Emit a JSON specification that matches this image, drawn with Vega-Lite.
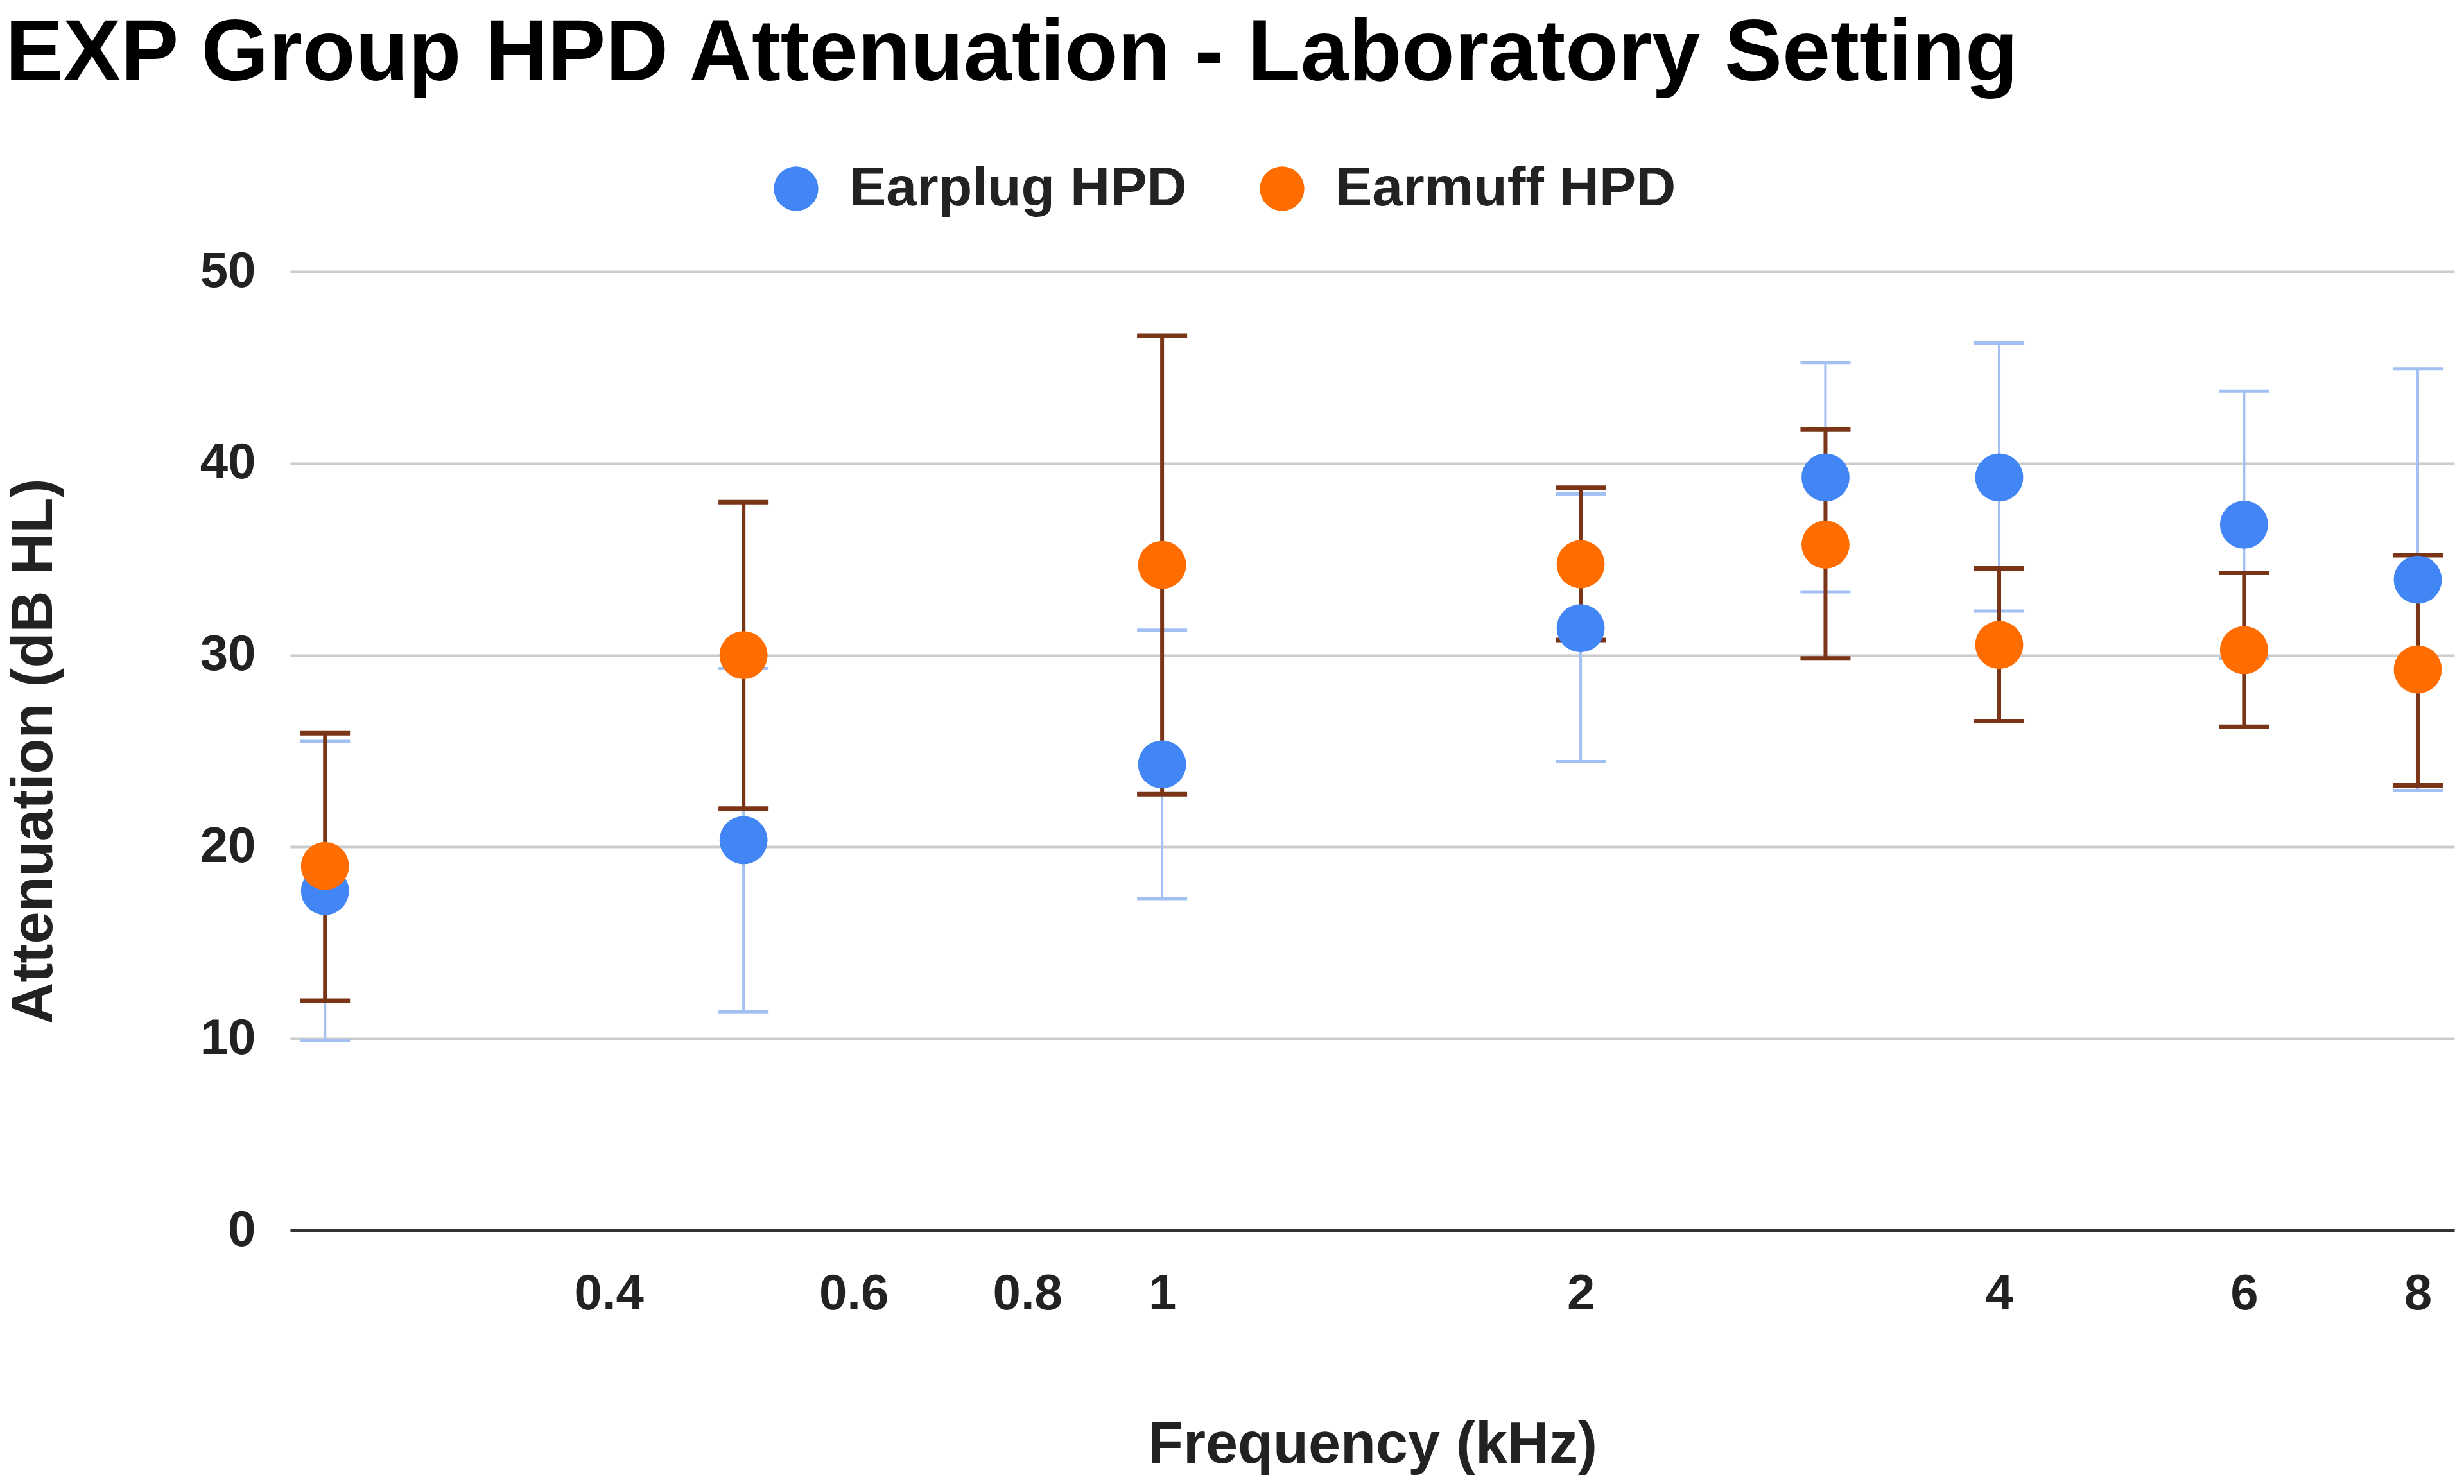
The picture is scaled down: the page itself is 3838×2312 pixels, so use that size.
{
  "$schema": "https://vega.github.io/schema/vega-lite/v6.json",
  "width": 3371,
  "height": 1494,
  "padding": {"left": 8, "top": 17, "right": 14, "bottom": 10},
  "background": "white",
  "title": {
    "text": "EXP Group HPD Attenuation - Laboratory Setting",
    "anchor": "start",
    "frame": "bounds",
    "font": "Liberation Sans",
    "fontSize": 135,
    "fontWeight": "bold",
    "color": "#000000",
    "offset": 98
  },
  "data": {
    "values": [
      {"freq": 0.25, "series": "Earplug HPD", "mean": 17.7, "lo": 9.9, "hi": 25.5},
      {"freq": 0.5, "series": "Earplug HPD", "mean": 20.35, "lo": 11.4, "hi": 29.3},
      {"freq": 1, "series": "Earplug HPD", "mean": 24.3, "lo": 17.3, "hi": 31.3},
      {"freq": 2, "series": "Earplug HPD", "mean": 31.4, "lo": 24.45, "hi": 38.4},
      {"freq": 3, "series": "Earplug HPD", "mean": 39.26, "lo": 33.3, "hi": 45.26},
      {"freq": 4, "series": "Earplug HPD", "mean": 39.26, "lo": 32.3, "hi": 46.27},
      {"freq": 6, "series": "Earplug HPD", "mean": 36.8, "lo": 29.83, "hi": 43.77},
      {"freq": 8, "series": "Earplug HPD", "mean": 33.93, "lo": 22.94, "hi": 44.92},
      {"freq": 0.25, "series": "Earmuff HPD", "mean": 19.0, "lo": 11.98, "hi": 25.93},
      {"freq": 0.5, "series": "Earmuff HPD", "mean": 30.0, "lo": 22.0, "hi": 37.98},
      {"freq": 1, "series": "Earmuff HPD", "mean": 34.7, "lo": 22.75, "hi": 46.65},
      {"freq": 2, "series": "Earmuff HPD", "mean": 34.74, "lo": 30.79, "hi": 38.73},
      {"freq": 3, "series": "Earmuff HPD", "mean": 35.76, "lo": 29.83, "hi": 41.76},
      {"freq": 4, "series": "Earmuff HPD", "mean": 30.53, "lo": 26.56, "hi": 34.52},
      {"freq": 6, "series": "Earmuff HPD", "mean": 30.26, "lo": 26.26, "hi": 34.29},
      {"freq": 8, "series": "Earmuff HPD", "mean": 29.25, "lo": 23.21, "hi": 35.21}
    ]
  },
  "encoding": {
    "x": {
      "field": "freq",
      "type": "quantitative",
      "scale": {"type": "log", "domain": [0.236, 8.5], "nice": false},
      "axis": {
        "title": "Frequency (kHz)",
        "values": [0.4, 0.6, 0.8, 1, 2, 4, 6, 8],
        "format": "~g",
        "grid": false,
        "ticks": false,
        "domain": true,
        "domainColor": "#333333",
        "domainWidth": 5,
        "labelPadding": 60,
        "titlePadding": 152
      }
    }
  },
  "layer": [
    {
      "transform": [{"filter": "datum.series === 'Earplug HPD'"}],
      "mark": {"type": "rule", "color": "#a3c0f2", "strokeWidth": 4},
      "encoding": {
        "y": {"field": "lo", "type": "quantitative"},
        "y2": {"field": "hi"}
      }
    },
    {
      "transform": [
        {"filter": "datum.series === 'Earplug HPD'"},
        {"fold": ["lo", "hi"], "as": ["end", "val"]}
      ],
      "mark": {"type": "tick", "orient": "horizontal", "color": "#a3c0f2", "size": 78, "thickness": 5, "opacity": 1},
      "encoding": {
        "y": {"field": "val", "type": "quantitative"}
      }
    },
    {
      "transform": [{"filter": "datum.series === 'Earmuff HPD'"}],
      "mark": {"type": "rule", "color": "#7a3516", "strokeWidth": 6},
      "encoding": {
        "y": {"field": "lo", "type": "quantitative"},
        "y2": {"field": "hi"}
      }
    },
    {
      "transform": [
        {"filter": "datum.series === 'Earmuff HPD'"},
        {"fold": ["lo", "hi"], "as": ["end", "val"]}
      ],
      "mark": {"type": "tick", "orient": "horizontal", "color": "#7a3516", "size": 78, "thickness": 7, "opacity": 1},
      "encoding": {
        "y": {"field": "val", "type": "quantitative"}
      }
    },
    {
      "mark": {"type": "point", "shape": "circle", "filled": true, "opacity": 1, "size": 5600},
      "encoding": {
        "y": {
          "field": "mean",
          "type": "quantitative",
          "scale": {"domain": [0, 50], "nice": false},
          "axis": {
            "title": "Attenuation (dB HL)",
            "values": [0, 10, 20, 30, 40, 50],
            "grid": true,
            "gridColor": "#cccccc",
            "gridWidth": 4,
            "ticks": false,
            "domain": false,
            "labelPadding": 54,
            "titlePadding": 212
          }
        },
        "color": {
          "field": "series",
          "type": "nominal",
          "scale": {"domain": ["Earplug HPD", "Earmuff HPD"], "range": ["#4285f4", "#ff6d01"]},
          "legend": {
            "title": null,
            "orient": "none",
            "direction": "horizontal",
            "legendX": 745,
            "legendY": -172,
            "symbolType": "circle",
            "symbolSize": 4800,
            "symbolStrokeWidth": 0,
            "labelFontSize": 86,
            "labelFontWeight": "bold",
            "labelFont": "Liberation Sans",
            "labelColor": "#222222",
            "labelLimit": 0,
            "labelOffset": 40,
            "columnPadding": 105
          }
        }
      }
    }
  ],
  "resolve": {"scale": {"y": "shared"}},
  "config": {
    "font": "Liberation Sans",
    "view": {"stroke": null},
    "axis": {
      "labelFont": "Liberation Sans",
      "labelFontSize": 78,
      "labelFontWeight": "bold",
      "labelColor": "#222222",
      "titleFont": "Liberation Sans",
      "titleFontSize": 90,
      "titleFontWeight": "bold",
      "titleColor": "#222222"
    }
  }
}
